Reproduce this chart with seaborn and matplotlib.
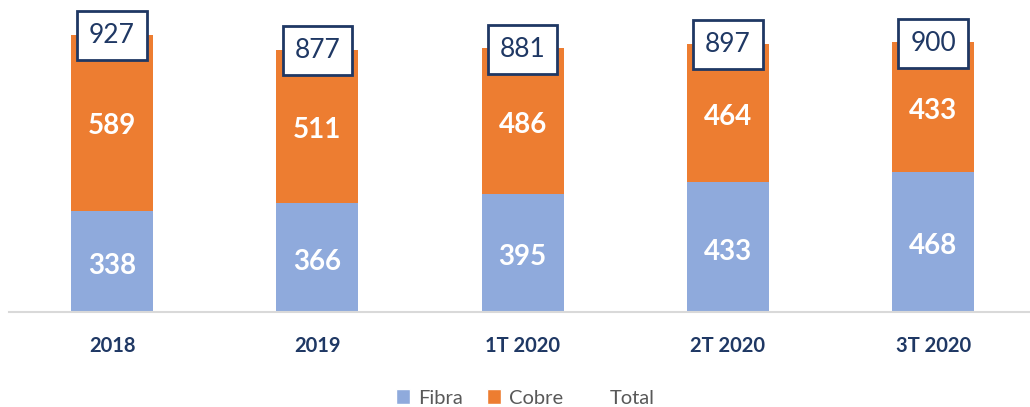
import pandas as pd
import matplotlib.pyplot as plt
import seaborn as sns
from matplotlib.patches import Patch

# Data
periods = ["2018", "2019", "1T 2020", "2T 2020", "3T 2020"]
fibra = [338, 366, 395, 433, 468]
cobre = [589, 511, 486, 464, 433]
total = [927, 877, 881, 897, 900]

df = pd.DataFrame({"periodo": periods, "Fibra": fibra, "Cobre": cobre, "Total": total})

c_fibra = "#8FAADC"
c_cobre = "#ED7D31"
navy = "#1F3864"
grey = "#D9D9D9"

sns.set_style("white")
plt.rcParams["font.family"] = ["Lato", "DejaVu Sans"]

fig = plt.figure(figsize=(10.3, 4.07), dpi=100)
ax = fig.add_axes([0.0091, 0.2334, 0.9966, 0.7666])

# stacked bars: Fibra at the bottom, Cobre on top
sns.barplot(data=df, x="periodo", y="Fibra", color=c_fibra, width=0.4,
            saturation=1, linewidth=0, ax=ax)
sns.barplot(data=df, x="periodo", y="Cobre", bottom=df["Fibra"], color=c_cobre,
            width=0.4, saturation=1, linewidth=0, ax=ax)

ax.set_ylim(0, 1043)
ax.set_xlim(-0.5, len(periods) - 0.5)

for i, row in df.iterrows():
    ax.text(i, row["Fibra"] / 2 - 15, f"{row['Fibra']}", ha="center", va="center",
            color="white", fontsize=20, fontweight="bold")
    ax.text(i, row["Fibra"] + row["Cobre"] / 2 - 12, f"{row['Cobre']}", ha="center",
            va="center", color="white", fontsize=20, fontweight="bold")
    ax.text(i, row["Total"] - 3, f"{row['Total']}", ha="center", va="center",
            color=navy, fontsize=19,
            bbox=dict(boxstyle="square,pad=0.45", facecolor="white",
                      edgecolor=navy, linewidth=2))

# axis: only the bottom line with separators between categories
for side in ["top", "right", "left"]:
    ax.spines[side].set_visible(False)
ax.spines["bottom"].set_color(grey)
ax.spines["bottom"].set_linewidth(1.5)
ax.set_yticks([])
ax.set_xticks([x + 0.5 for x in range(-1, len(periods))], minor=True)
ax.tick_params(axis="x", which="minor", length=7, width=1.5, color=grey, direction="out")
ax.tick_params(axis="x", which="major", length=0, pad=17)
for lbl in ax.get_xticklabels():
    lbl.set_fontweight("bold")
    lbl.set_fontsize(14.5)
    lbl.set_color(navy)
ax.set_xlabel("")
ax.set_ylabel("")

handles = [Patch(facecolor=c_fibra, label="Fibra"),
           Patch(facecolor=c_cobre, label="Cobre"),
           Patch(facecolor="none", edgecolor="none", label="Total")]
fig.legend(handles=handles, loc="center", bbox_to_anchor=(0.51, 0.022), ncol=3,
           frameon=False, fontsize=14.5, handlelength=0.7, handleheight=0.7,
           handletextpad=0.4, columnspacing=1.2, labelcolor="#595959")

fig.savefig("out.png", dpi=100)
